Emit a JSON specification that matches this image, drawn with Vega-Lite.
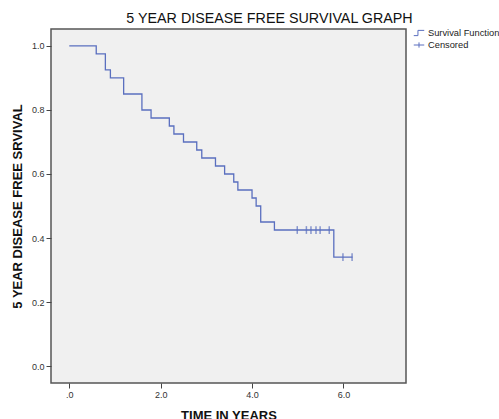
{
  "$schema": "https://vega.github.io/schema/vega-lite/v6.json",
  "width": 355,
  "height": 354,
  "autosize": {"type": "none"},
  "padding": {"left": 51, "top": 29, "right": 93, "bottom": 36},
  "background": "white",
  "config": {
    "font": "Liberation Sans",
    "view": {"fill": "#f0f0f0", "stroke": "#555555", "strokeWidth": 1.5},
    "axis": {"grid": false, "domain": false, "tickColor": "#444", "tickSize": 5, "labelFontSize": 9, "labelColor": "#333", "titleFontSize": 13, "titleFontWeight": "bold", "titleColor": "#111"}
  },
  "title": {"text": "5 YEAR DISEASE FREE SURVIVAL GRAPH", "fontSize": 14.3, "fontWeight": "normal", "color": "#111", "anchor": "middle", "dx": 41, "offset": 1},
  "datasets": {
    "km": [
      {"t": 0, "s": 1.0}, {"t": 0.59, "s": 0.975}, {"t": 0.79, "s": 0.925}, {"t": 0.9, "s": 0.9},
      {"t": 1.19, "s": 0.85}, {"t": 1.59, "s": 0.8}, {"t": 1.79, "s": 0.775}, {"t": 2.19, "s": 0.75},
      {"t": 2.29, "s": 0.725}, {"t": 2.5, "s": 0.7}, {"t": 2.79, "s": 0.675}, {"t": 2.9, "s": 0.65},
      {"t": 3.2, "s": 0.625}, {"t": 3.4, "s": 0.6}, {"t": 3.6, "s": 0.575}, {"t": 3.69, "s": 0.55},
      {"t": 4.0, "s": 0.525}, {"t": 4.09, "s": 0.5}, {"t": 4.19, "s": 0.45}, {"t": 4.49, "s": 0.425},
      {"t": 5.79, "s": 0.34}, {"t": 6.2, "s": 0.34}
    ],
    "cens": [
      {"t": 4.99, "s": 0.425}, {"t": 5.19, "s": 0.425}, {"t": 5.29, "s": 0.425}, {"t": 5.4, "s": 0.425},
      {"t": 5.49, "s": 0.425}, {"t": 5.69, "s": 0.425}, {"t": 5.99, "s": 0.34}, {"t": 6.19, "s": 0.34}
    ]
  },
  "layer": [
    {
      "data": {"name": "km"},
      "transform": [{"calculate": "'Survival Function'", "as": "series"}],
      "mark": {"type": "line", "interpolate": "step-after", "strokeWidth": 1.3},
      "encoding": {
        "x": {"field": "t", "type": "quantitative", "scale": {"domain": [-0.4, 7.37], "nice": false, "zero": false},
          "axis": {"values": [0, 2, 4, 6], "labelExpr": "datum.value == 0 ? '.0' : format(datum.value, '.1f')", "title": "TIME IN YEARS", "titlePadding": 10}},
        "y": {"field": "s", "type": "quantitative", "scale": {"domain": [-0.053, 1.053], "nice": false, "zero": false},
          "axis": {"values": [0, 0.2, 0.4, 0.6, 0.8, 1.0], "format": ".1f", "title": "5 YEAR DISEASE FREE SRVIVAL", "titlePadding": 7}},
        "color": {"field": "series", "type": "nominal",
          "scale": {"domain": ["Survival Function", "Censored"], "range": ["#5a6fbf", "#5a6fbf"]},
          "legend": {"title": null, "orient": "none", "legendX": 362, "legendY": -2, "labelFontSize": 9.3, "labelColor": "#222", "symbolSize": 110, "rowPadding": 0, "labelOffset": 3,
            "symbolStrokeWidth": 1,
            "encode": {"symbols": {"update": {"shape": {"signal": "datum.value == 'Censored' ? 'M-1,0H1M0,-0.5V0.5' : 'M-1,0.5H-0.2V-0.5H1'"}, "fill": {"value": "transparent"}}}}}}
      }
    },
    {
      "data": {"name": "cens"},
      "transform": [{"calculate": "'Censored'", "as": "series"}],
      "mark": {"type": "point", "shape": "M0,-1V1", "size": 60, "strokeWidth": 1.5, "filled": false},
      "encoding": {
        "x": {"field": "t", "type": "quantitative"},
        "y": {"field": "s", "type": "quantitative"},
        "color": {"field": "series", "type": "nominal"}
      }
    }
  ]
}
